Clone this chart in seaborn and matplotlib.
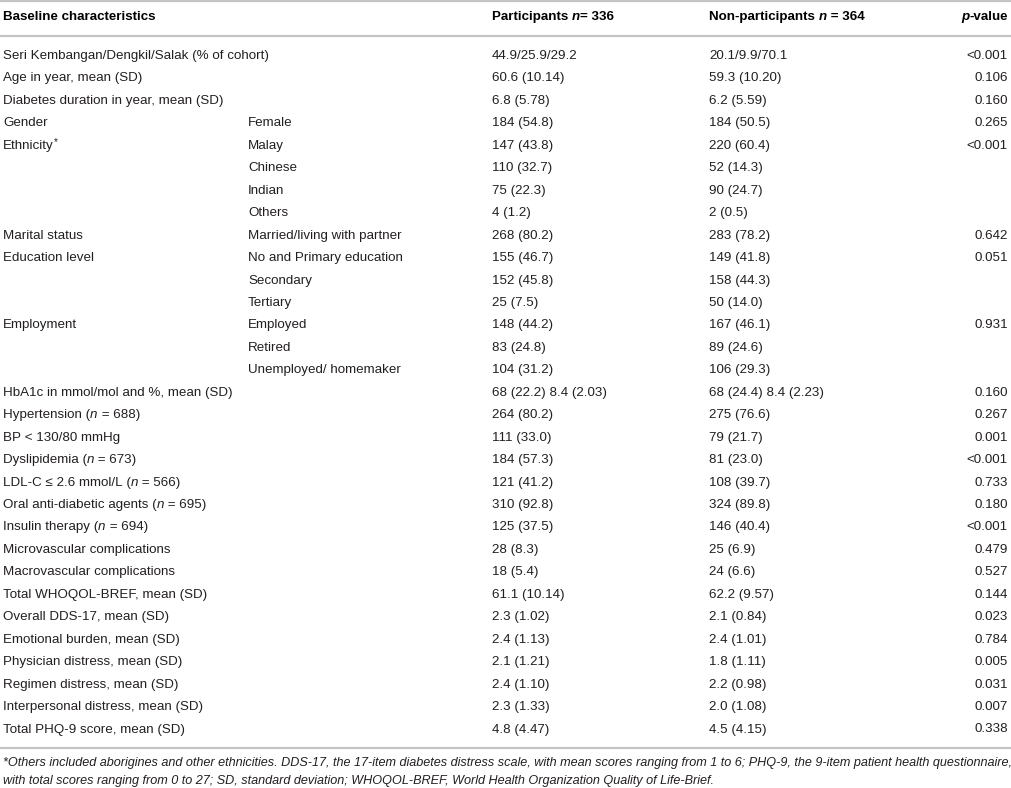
import matplotlib
matplotlib.use("Agg")
import matplotlib.pyplot as plt
import seaborn as sns

# ---------------- data ----------------
headers = ["**Baseline characteristics**", "", "**Participants **_**n**_**= 336**",
           "**Non-participants **_**n**_** = 364**", "_**p**_**-value**"]

characteristics = [
    "Seri Kembangan/Dengkil/Salak (% of cohort)", "Age in year, mean (SD)",
    "Diabetes duration in year, mean (SD)", "Gender", "Ethnicity^*^", "", "", "",
    "Marital status", "Education level", "", "", "Employment", "", "",
    "HbA1c in mmol/mol and %, mean (SD)", "Hypertension (_n_ = 688)", "BP < 130/80 mmHg",
    "Dyslipidemia (_n_ = 673)", "LDL-C \u2264 2.6 mmol/L (_n_ = 566)",
    "Oral anti-diabetic agents (_n_ = 695)", "Insulin therapy (_n_ = 694)",
    "Microvascular complications", "Macrovascular complications",
    "Total WHOQOL-BREF, mean (SD)", "Overall DDS-17, mean (SD)",
    "Emotional burden, mean (SD)", "Physician distress, mean (SD)",
    "Regimen distress, mean (SD)", "Interpersonal distress, mean (SD)",
    "Total PHQ-9 score, mean (SD)",
]
subgroups = [
    "", "", "", "Female", "Malay", "Chinese", "Indian", "Others",
    "Married/living with partner", "No and Primary education", "Secondary", "Tertiary",
    "Employed", "Retired", "Unemployed/ homemaker",
    "", "", "", "", "", "", "", "", "", "", "", "", "", "", "", "",
]
participants = [
    "44.9/25.9/29.2", "60.6 (10.14)", "6.8 (5.78)", "184 (54.8)", "147 (43.8)",
    "110 (32.7)", "75 (22.3)", "4 (1.2)", "268 (80.2)", "155 (46.7)", "152 (45.8)",
    "25 (7.5)", "148 (44.2)", "83 (24.8)", "104 (31.2)", "68 (22.2) 8.4 (2.03)",
    "264 (80.2)", "111 (33.0)", "184 (57.3)", "121 (41.2)", "310 (92.8)", "125 (37.5)",
    "28 (8.3)", "18 (5.4)", "61.1 (10.14)", "2.3 (1.02)", "2.4 (1.13)", "2.1 (1.21)",
    "2.4 (1.10)", "2.3 (1.33)", "4.8 (4.47)",
]
non_participants = [
    "20.1/9.9/70.1", "59.3 (10.20)", "6.2 (5.59)", "184 (50.5)", "220 (60.4)",
    "52 (14.3)", "90 (24.7)", "2 (0.5)", "283 (78.2)", "149 (41.8)", "158 (44.3)",
    "50 (14.0)", "167 (46.1)", "89 (24.6)", "106 (29.3)", "68 (24.4) 8.4 (2.23)",
    "275 (76.6)", "79 (21.7)", "81 (23.0)", "108 (39.7)", "324 (89.8)", "146 (40.4)",
    "25 (6.9)", "24 (6.6)", "62.2 (9.57)", "2.1 (0.84)", "2.4 (1.01)", "1.8 (1.11)",
    "2.2 (0.98)", "2.0 (1.08)", "4.5 (4.15)",
]
p_values = [
    "<0.001", "0.106", "0.160", "0.265", "<0.001", "", "", "", "0.642", "0.051", "", "",
    "0.931", "", "", "0.160", "0.267", "0.001", "<0.001", "0.733", "0.180", "<0.001",
    "0.479", "0.527", "0.144", "0.023", "0.784", "0.005", "0.031", "0.007", "0.338",
]
footnote = [
    "*Others included aborigines and other ethnicities. DDS-17, the 17-item diabetes distress scale, "
    "with mean scores ranging from 1 to 6; PHQ-9, the 9-item patient health questionnaire,",
    "with total scores ranging from 0 to 27; SD, standard deviation; WHOQOL-BREF, "
    "World Health Organization Quality of Life-Brief.",
]

# ---------------- style ----------------
sns.set_theme(style="white")
plt.rcParams["font.family"] = ["Liberation Sans", "DejaVu Sans"]

W, H = 1012, 788
fig = plt.figure(figsize=(W / 100, H / 100), dpi=100)
ax = fig.add_axes([0, 0, 1, 1])
ax.set_xlim(0, W)
ax.set_ylim(H, 0)
ax.axis("off")
renderer = fig.canvas.get_renderer()

FS = 9.6
TXT = "#231f20"
LINE = "#c4c4c4"


def parse(s):
    """Split a cell string into (text, bold, italic, sup) segments."""
    segs = []
    bold = italic = sup = False
    buf = ""
    i = 0
    while i < len(s):
        if s.startswith("**", i):
            if buf:
                segs.append((buf, bold, italic, sup)); buf = ""
            bold = not bold; i += 2; continue
        c = s[i]
        if c == "_":
            if buf:
                segs.append((buf, bold, italic, sup)); buf = ""
            italic = not italic; i += 1; continue
        if c == "^":
            if buf:
                segs.append((buf, bold, italic, sup)); buf = ""
            sup = not sup; i += 1; continue
        buf += c; i += 1
    if buf:
        segs.append((buf, bold, italic, sup))
    return segs


def seg_width(text, bold, italic, size):
    t = ax.text(0, 0, text.replace(" ", "\u00a0"), fontsize=size,
                fontweight="bold" if bold else "normal",
                fontstyle="italic" if italic else "normal")
    w = t.get_window_extent(renderer).width
    t.remove()
    return w


def draw_cell(x, y, s, ha="left", size=FS, color=TXT):
    segs = parse(s)
    widths = []
    for text, b, it, sp in segs:
        widths.append(seg_width(text, b, it, size * (0.75 if sp else 1)))
    total = sum(widths)
    cx = x - total if ha == "right" else x
    for (text, b, it, sp), w in zip(segs, widths):
        ax.text(cx, y - (4 if sp else 0), text.replace(" ", "\u00a0"),
                fontsize=size * (0.75 if sp else 1),
                fontweight="bold" if b else "normal",
                fontstyle="italic" if it else "normal",
                color="black" if b else color, va="center", ha="left")
        cx += w


col_x = [3, 248, 492, 709, 1008]
header_y = 17
row0, row_step = 56, 22.45

# rules
for yy in (1, 36, 748):
    ax.plot([0, W], [yy, yy], color=LINE, lw=1.6, solid_capstyle="butt")

# header
for j, h in enumerate(headers):
    if h:
        draw_cell(col_x[j], header_y, h, ha="right" if j == 4 else "left")

# body
for i in range(len(characteristics)):
    y = row0 + i * row_step
    cells = [characteristics[i], subgroups[i], participants[i], non_participants[i], p_values[i]]
    for j, c in enumerate(cells):
        if c:
            draw_cell(col_x[j], y, c, ha="right" if j == 4 else "left")

# footnote
for k, line in enumerate(footnote):
    ax.text(3, 763 + k * 18, line, fontsize=9.08, fontstyle="italic", color=TXT,
            va="center", ha="left")

fig.savefig("out.png", dpi=100)
